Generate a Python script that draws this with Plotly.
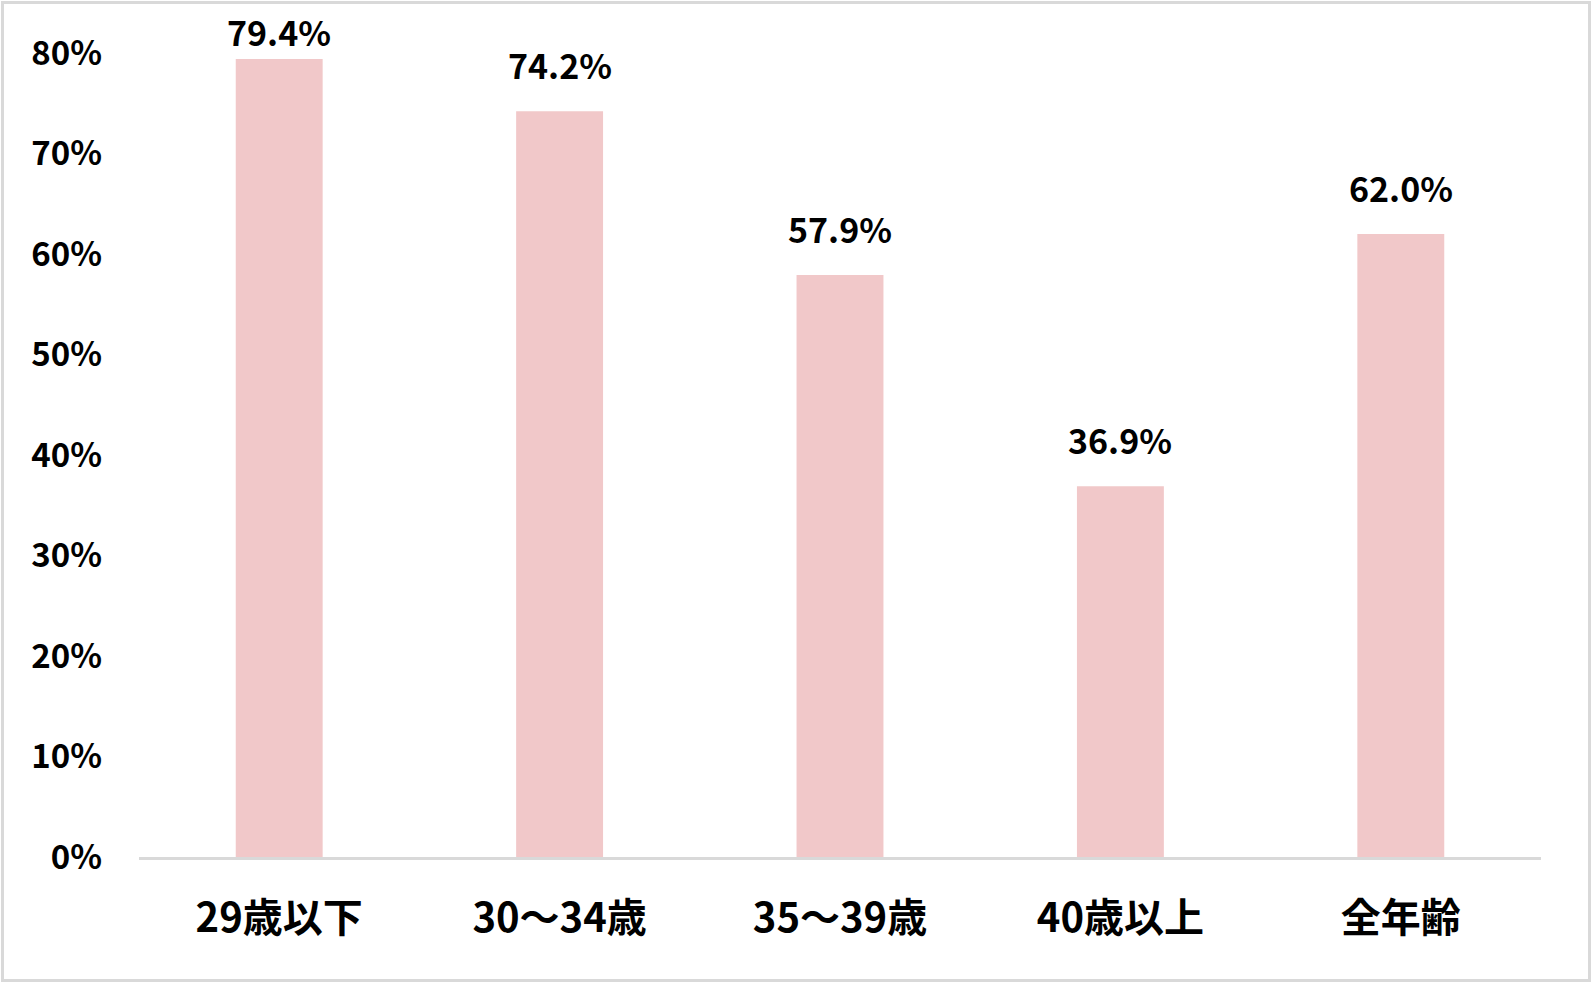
import plotly.graph_objects as go

categories = ["29歳以下", "30～34歳", "35～39歳", "40歳以上", "全年齢"]
values = [0.794, 0.742, 0.579, 0.369, 0.620]
labels = ["79.4%", "74.2%", "57.9%", "36.9%", "62.0%"]

W, H = 1594, 984
ml, mr, mt, mb = 139, 53, 53, 127
pw, ph = W - ml - mr, H - mt - mb

font = "Noto Sans CJK JP"
ymax = 0.8

fig = go.Figure()
fig.add_trace(go.Bar(
    x=categories,
    y=values,
    width=0.31,
    marker=dict(color="#F1C8C9", line=dict(width=0)),
    hoverinfo="skip",
))

for c, v, t in zip(categories, values, labels):
    # 上端に近いラベルはグラフ内に寄せる
    shift = 20 if v < ymax - 0.02 else 1
    fig.add_annotation(
        x=c, y=v, text="<b>" + t + "</b>", showarrow=False,
        yanchor="bottom", yshift=shift,
        font=dict(family=font, size=34, color="#000000"),
    )

# 外枠
def px_x(p):
    return (p - ml) / pw

def px_y(p):
    return (H - mb - p) / ph

fig.add_shape(
    type="rect", xref="paper", yref="paper",
    x0=px_x(2.5), x1=px_x(W - 4.5), y0=px_y(H - 3.5), y1=px_y(2.5),
    line=dict(color="#D9D9D9", width=3),
)

fig.update_layout(
    width=W, height=H,
    margin=dict(l=ml, r=mr, t=mt, b=mb),
    paper_bgcolor="white",
    plot_bgcolor="white",
    showlegend=False,
    font=dict(family=font, color="#000000"),
)

fig.update_xaxes(
    showline=True, linecolor="#D9D9D9", linewidth=3,
    showgrid=False, ticks="",
    tickfont=dict(family=font, size=40, color="#000000", weight="bold"),
    ticklabelstandoff=24,
)
fig.update_yaxes(
    range=[0, ymax], dtick=0.1, tickformat=".0%",
    showgrid=False, zeroline=False, showline=False, ticks="",
    tickfont=dict(family=font, size=33, color="#000000", weight="bold"),
    ticklabelstandoff=36,
)

fig.write_html(
    "out.html",
    config={"displayModeBar": False},
    post_script="document.body.style.margin='0';",
)
